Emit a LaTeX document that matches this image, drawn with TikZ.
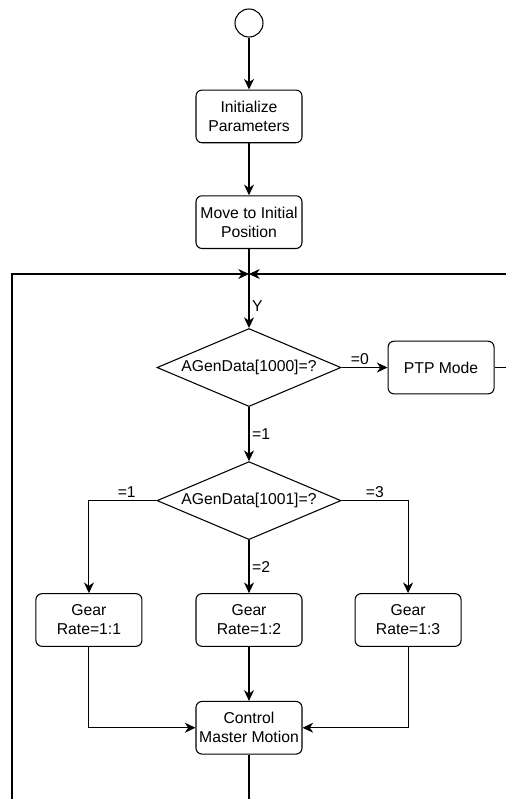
\documentclass[tikz,border=0pt]{standalone}
\usepackage{fontspec}
\setmainfont{Liberation Sans}
\usepackage{tikz}
\usetikzlibrary{shapes.geometric,arrows.meta,positioning}
\tikzstyle{startpt} = [circle, minimum size=21pt, inner sep=0pt, draw=black, line width=0.8pt]
\tikzstyle{process} = [rectangle, rounded corners=4.5pt, minimum width=79.5pt, minimum height=39.5pt, inner sep=2pt, align=center, draw=black, line width=0.8pt]
\tikzstyle{decision} = [diamond, aspect=2.36, minimum width=138pt, minimum height=58.5pt, inner sep=0pt, text centered, draw=black, line width=0.8pt]
\tikzstyle{line} = [line width=0.8pt]
\tikzstyle{arrow} = [line width=0.8pt,-{Stealth[length=8pt,width=7.5pt,inset=2.5pt]}]
\tikzstyle{lbl} = [inner sep=2pt]

\begin{document}
\begin{tikzpicture}[font=\fontsize{11.8pt}{14.3pt}\selectfont]
        \useasboundingbox (-186.75pt,17.25pt) rectangle (192.75pt,-582pt);
        \node (start) [startpt] at (0,0) {};
        \node (init) [process, below = 39pt of start] {Initialize\\Parameters};
        \node (move) [process, below = 39pt of init] {Move to Initial\\Position};
        \coordinate [below = 18.75pt of move] (junc);
        \node (dec1) [decision, below = 40.5pt of junc] {AGenData[1000]=?};
        \node (ptp) [process, right = 34.5pt of dec1] {PTP Mode};
        \node (dec2) [decision, below = 40.5pt of dec1] {AGenData[1001]=?};
        \node (gear2) [process, below = 39.75pt of dec2] {Gear\\Rate=1:2};
        \node (gear1) [process, left = 39.75pt of gear2] {Gear\\Rate=1:1};
        \node (gear3) [process, right = 39pt of gear2] {Gear\\Rate=1:3};
        \node (ctrl) [process, below = 40.5pt of gear2] {Control\\Master Motion};

        % free ends at the edges of the picture
        \coordinate (edgeR) at (192.75pt,0);
        \coordinate (endB) at (0,-582pt);
        \coordinate (retL) at (-177.75pt,-582pt);
        \coordinate (retR) at (junc -| edgeR);
        \coordinate (ptpR) at (ptp -| edgeR);

        \draw [arrow] (start) -- (init);
        \draw [arrow] (init) -- (move);
        \draw [line] (move) -- (junc);
        \draw [arrow] (junc) -- node[lbl, right, pos=0.6] {Y} (dec1);
        \draw [arrow] (retL) |- (junc);
        \draw [arrow] (retR) -- (junc);
        \draw [arrow] (dec1) -- node[lbl, above, pos=0.4] {=0} (ptp);
        \draw [line] (ptp) -- (ptpR);
        \draw [arrow] (dec1) -- node[lbl, right] {=1} (dec2);
        \draw [arrow] (dec2) -| node[lbl, above, pos=0.22] {=1} (gear1);
        \draw [arrow] (dec2) -- node[lbl, right] {=2} (gear2);
        \draw [arrow] (dec2) -| node[lbl, above, pos=0.25] {=3} (gear3);
        \draw [arrow] (gear1) |- (ctrl);
        \draw [arrow] (gear2) -- (ctrl);
        \draw [arrow] (gear3) |- (ctrl);
        \draw [line] (ctrl) -- (endB);
    \end{tikzpicture}
\end{document}
